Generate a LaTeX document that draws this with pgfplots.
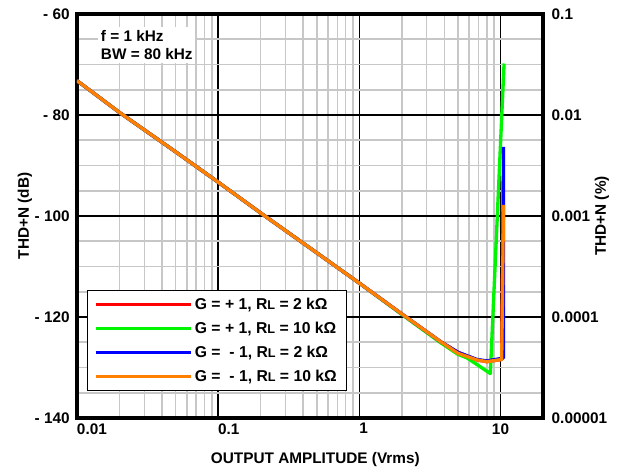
\documentclass[border=0pt]{standalone}
\usepackage{fontspec}
\setmainfont{Liberation Sans}
\usepackage{pgfplots}
\pgfplotsset{compat=1.18}
\definecolor{cRed}{RGB}{255,0,0}
\definecolor{cGreen}{RGB}{0,245,0}
\definecolor{cBlue}{RGB}{0,0,255}
\definecolor{cOrange}{RGB}{255,128,0}
\newcommand{\RL}{R{\fontsize{9.5}{9.5}\selectfont L}}
\newcommand{\lblfont}{\bfseries\fontsize{11.5}{13.5}\selectfont}
\newcommand{\legfont}{\bfseries\fontsize{11.8}{14}\selectfont}
\begin{document}
\begin{tikzpicture}
\path[use as bounding box, fill=white] (-57.75pt,-42pt) rectangle (410.25pt,313.5pt);
\begin{axis}[
  width=349.5pt, height=303pt, scale only axis,
  xmode=log, xmin=0.01, xmax=20,
  ymin=-140, ymax=-60,
  xtick={0.01,0.1,1,10},
  xticklabels={\rlap{0.01},\rlap{0.1},\rlap{1},10},
  ytick={-140,-120,-100,-80,-60},
  yticklabels={- 140,- 120,- 100,- 80,- 60},
  minor y tick num=3,
  grid=both,
  major grid style={black, line width=1.1pt},
  minor grid style={black!22, line width=1.2pt},
  axis line style={line width=2.3pt},
  tick style={draw=none},
  major tick length=0pt, minor tick length=0pt,
  tick label style={font=\lblfont},
  xticklabel style={yshift=-0.5pt},
  yticklabel style={xshift=-2pt},
  xlabel={OUTPUT AMPLITUDE (Vrms)},
  every axis x label/.style={at={(axis description cs:0.5,0)}, anchor=center, yshift=-31pt, xshift=4pt, font=\lblfont},
  ylabel={THD+N (dB)},
  every axis y label/.style={at={(axis description cs:-0.1116,0.5)}, rotate=90, anchor=center, font=\lblfont},
  legend style={at={(0.0215,0.317)}, anchor=north west, draw=black, line width=0.8pt,
    fill=white, font=\legfont, row sep=4pt, inner xsep=5pt, inner ysep=3.5pt},
  legend cell align=left,
  legend image code/.code={\draw[#1, line width=2.5pt] (0pt,0pt) -- (66pt,0pt); \path (0pt,0pt) -- (71pt,0pt);},
]
\addplot[cRed, line width=2.5pt, line join=round] coordinates {
 (0.01,-73.2) (0.02,-79.5) (0.05,-87.3) (0.1,-93.3) (0.2,-99.4) (0.5,-107.3)
 (1,-113.3) (2,-119.4) (3.77,-124.9) (5,-127.0) (6.8,-128.5) (8,-128.85)
 (9.7,-128.5) (10.2,-128.4) (10.45,-92)};
\addlegendentry{G = + 1, \RL\ = 2 kΩ}
\addplot[cGreen, line width=2.5pt, line join=round] coordinates {
 (0.01,-73.2) (0.02,-79.5) (0.05,-87.3) (0.1,-93.3) (0.2,-99.4) (0.5,-107.3)
 (1,-113.3) (2,-119.5) (3.77,-125.1) (5,-127.4) (5.8,-128.1) (6.8,-129.4)
 (8.47,-131.2) (10.6,-69.8)};
\addlegendentry{G = + 1, \RL\ = 10 kΩ}
\addplot[cBlue, line width=2.5pt, line join=round] coordinates {
 (0.01,-73.2) (0.02,-79.5) (0.05,-87.3) (0.1,-93.3) (0.2,-99.4) (0.5,-107.3)
 (1,-113.3) (2,-119.4) (3.77,-124.9) (5,-127.0) (6.8,-128.4) (8,-128.7)
 (9.7,-128.3) (10.3,-128.2) (10.5,-128.0) (10.5,-86.3)};
\addlegendentry{G = \ - 1, \RL\ = 2 kΩ}
\addplot[cOrange, line width=2.5pt, line join=round] coordinates {
 (0.01,-73.2) (0.02,-79.5) (0.05,-87.3) (0.1,-93.3) (0.2,-99.4) (0.5,-107.3)
 (1,-113.3) (2,-119.4) (3.77,-124.9) (5,-127.2) (6.8,-128.5) (8,-128.85)
 (9.7,-128.5) (10.2,-128.4) (10.5,-97.8)};
\addlegendentry{G = \ - 1, \RL\ = 10 kΩ}
\node[fill=white, anchor=north west, align=left, inner sep=2pt, font=\lblfont]
  at (axis cs:0.0141,-62.6) {f = 1 kHz\\[0.5pt]BW = 80 kHz};
\end{axis}
\begin{axis}[
  width=349.5pt, height=303pt, scale only axis,
  xmode=log, xmin=0.01, xmax=20,
  ymode=log, ymin=1e-5, ymax=0.1,
  axis y line*=right, axis x line=none,
  axis line style={line width=2.3pt},
  ytick={1e-5,1e-4,1e-3,1e-2,1e-1},
  yticklabels={0.00001,0.0001,0.001,0.01,0.1},
  tick style={draw=none},
  major tick length=0pt, minor tick length=0pt,
  tick label style={font=\lblfont},
  yticklabel style={xshift=3pt},
  ylabel={THD+N (\%)},
  every axis y label/.style={at={(axis description cs:1.1266,0.5)}, rotate=90, anchor=center, font=\lblfont},
]
\end{axis}
\end{tikzpicture}
\end{document}
